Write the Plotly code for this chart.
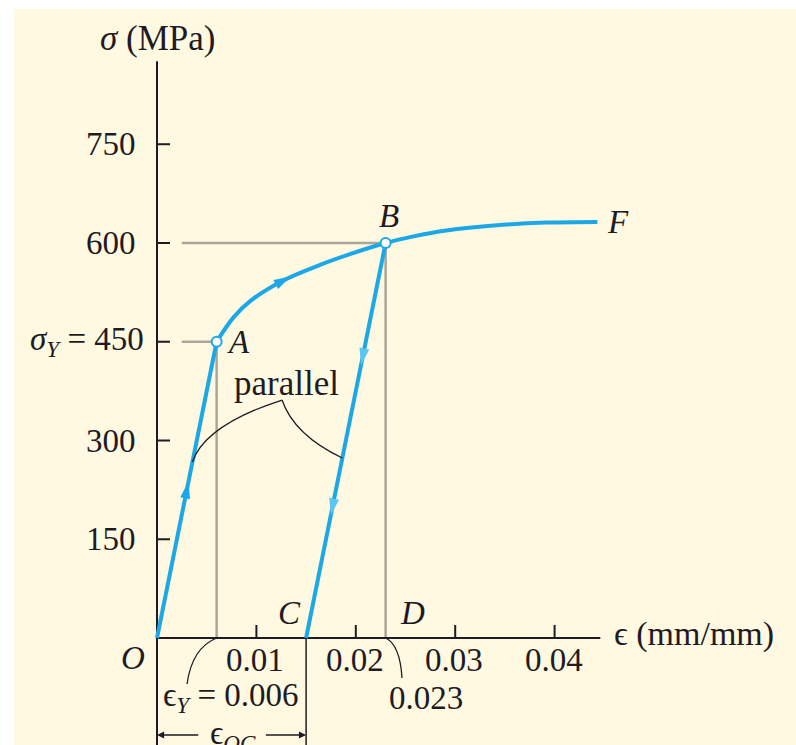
import math
import plotly.graph_objects as go

# ---- data -------------------------------------------------------------
# elastic loading O -> A, strain hardening A -> B -> F, unloading B -> C
strain_OA = [0.0, 0.006]
stress_OA = [0.0, 450.0]

strain_ABF = [0.006, 0.0077, 0.0094, 0.0127, 0.0161, 0.0194, 0.023,
              0.0258, 0.0291, 0.0342, 0.0392, 0.0443]
stress_ABF = [450, 487, 512, 543, 565, 583, 600, 610, 619, 627, 631, 632]

strain_BC = [0.023, 0.015]
stress_BC = [600.0, 0.0]

point_strain = [0.006, 0.023]
point_stress = [450.0, 600.0]

x_ticks = [0.01, 0.02, 0.03, 0.04]
x_tick_text = ["0.01", "0.02", "0.03", "0.04"]
y_ticks = [150, 300, 450, 600, 750]
y_tick_text = ["150", "300", "<i>σ</i><sub><i>Y</i></sub> = 450", "600", "750"]

# ---- styling ----------------------------------------------------------
W, H = 796, 745
ML, MT = 14, 9
X_RANGE = [-0.014386, 0.064286]
Y_RANGE = [-162.5, 955.4]
BG = "#FEF9E0"
BLUE = "#1CA8E6"
BLUE_LIGHT = "#5CC6F2"
GRAY = "#A9A79A"
INK = "#1F1B24"
FONT = "Liberation Serif, Times New Roman, DejaVu Serif, serif"
FS = 33

# pixels per data unit, used for tick lengths and arrowheads
KX = (W - ML) / (X_RANGE[1] - X_RANGE[0])
KY = (H - MT) / (Y_RANGE[1] - Y_RANGE[0])

fig = go.Figure()


def add_line(xs, ys, color=BLUE, width=4, shape="linear"):
    fig.add_trace(go.Scatter(x=xs, y=ys, mode="lines",
                             line=dict(color=color, width=width, shape=shape,
                                       smoothing=1.0),
                             hoverinfo="skip", showlegend=False))


def add_arrowhead(x, y, dx, dy, color=BLUE, length=17, half_w=5):
    """Filled arrowhead centred on (x, y) pointing along (dx, dy)."""
    u, v = dx * KX, dy * KY
    n = math.hypot(u, v)
    u, v = u / n, v / n
    px, py = x * KX, y * KY
    tip = (px + u * length / 2, py + v * length / 2)
    base = (px - u * length / 2, py - v * length / 2)
    c1 = (base[0] - v * half_w, base[1] + u * half_w)
    c2 = (base[0] + v * half_w, base[1] - u * half_w)
    pts = [tip, c1, c2, tip]
    fig.add_trace(go.Scatter(x=[p[0] / KX for p in pts], y=[p[1] / KY for p in pts],
                             mode="lines", fill="toself", fillcolor=color,
                             line=dict(width=0, color=color),
                             hoverinfo="skip", showlegend=False))


shapes = []


def seg(x0, y0, x1, y1, color=INK, width=2):
    shapes.append(dict(type="line", xref="x", yref="y", x0=x0, y0=y0, x1=x1, y1=y1,
                       line=dict(color=color, width=width), layer="below"))


# guide lines to A and B
x_guide_start = 0.0025
seg(x_guide_start, 600, strain_ABF[6], 600, GRAY, 2.5)
seg(x_guide_start, 450, strain_OA[1], 450, GRAY, 2.5)
seg(strain_OA[1], 0, strain_OA[1], 450, GRAY, 2.5)
seg(strain_BC[0], 0, strain_BC[0], 600, GRAY, 2.5)

# axes
x_axis_end = 0.0446
y_axis_end = 876
seg(0, 0, x_axis_end, 0, INK, 2)
seg(0, Y_RANGE[0], 0, y_axis_end, INK, 2)
seg(strain_BC[1], 0, strain_BC[1], Y_RANGE[0], INK, 1.5)
tick_px = 13
for t in x_ticks:
    seg(t, 0, t, tick_px / KY, INK, 2)
for t in y_ticks:
    seg(0, t, tick_px / KX, t, INK, 2)

# curved leader lines
leaders = [
    ((0.006, 0), (0.00352, -15.2), (0.00302, -69.9)),
    ((0.023, 0), (0.02445, -10.6), (0.02465, -60.8)),
    ((0.01258, 361.5), (0.00483, 323.5), (0.003564, 267.3)),
    ((0.01258, 361.5), (0.01378, 308.4), (0.018645, 273.4)),
]
for p0, c, p1 in leaders:
    shapes.append(dict(type="path", xref="x", yref="y",
                       path=f"M{p0[0]},{p0[1]} Q{c[0]},{c[1]} {p1[0]},{p1[1]}",
                       line=dict(color=INK, width=1.3)))

# stress-strain curve
add_line(strain_OA, stress_OA)
add_line(strain_ABF, stress_ABF, shape="spline")
add_line(strain_BC, stress_BC)

# direction arrows
add_arrowhead(0.003, 225, strain_OA[1] - strain_OA[0], stress_OA[1] - stress_OA[0])
add_arrowhead(strain_ABF[3], stress_ABF[3],
              strain_ABF[4] - strain_ABF[2], stress_ABF[4] - stress_ABF[2])
slope_BC = (stress_BC[0] - stress_BC[1]) / (strain_BC[0] - strain_BC[1])
for s in (427, 199):
    add_arrowhead(strain_BC[1] + s / slope_BC, s,
                  strain_BC[1] - strain_BC[0], stress_BC[1] - stress_BC[0],
                  color=BLUE_LIGHT)

# points A and B
fig.add_trace(go.Scatter(x=point_strain, y=point_stress, mode="markers",
                         marker=dict(size=10, color="white",
                                     line=dict(color=BLUE, width=2)),
                         hoverinfo="skip", showlegend=False))

# ---- text -------------------------------------------------------------
ann = []


def text(x, y, s, xanchor="center", size=FS):
    ann.append(dict(x=x, y=y, xref="x", yref="y", text=s, showarrow=False,
                    xanchor=xanchor, yanchor="middle",
                    font=dict(family=FONT, size=size, color=INK)))


for t, lab in zip(y_ticks, y_tick_text):
    text(-0.0011 if t == 450 else -0.0019, t, lab, xanchor="right")
for t, lab in zip(x_ticks, x_tick_text):
    text(t - 0.0001, -33.4, lab)

text(0, 911, "<i>σ</i> (MPa)", size=35)
text(0.04577, 6, "ϵ (mm/mm)", xanchor="left", size=34)
text(-0.00241, -30.4, "<i>O</i>")
text(0.00815, 449.6, "<i>A</i>")
text(0.02334, 641, "<i>B</i>")
text(0.04638, 632, "<i>F</i>")
text(0.01338, 38, "<i>C</i>")
text(0.02575, 38, "<i>D</i>")
text(0.01298, 387, "parallel", size=35)
text(0.00744, -91, "ϵ<sub><i>Y</i></sub> = 0.006")
text(0.02706, -91, "0.023")
text(0.00765, -148, "ϵ<sub><i>OC</i></sub>")

# dimension arrows for eps_OC
for head, tail in ((0.0, 0.0043), (strain_BC[1], 0.0108)):
    ann.append(dict(x=head, y=-147.3, ax=tail, ay=-147.3, xref="x", yref="y",
                    axref="x", ayref="y", text="", showarrow=True,
                    arrowhead=2, arrowsize=1.1, arrowwidth=1.3, arrowcolor=INK))

fig.update_layout(
    width=W, height=H,
    margin=dict(l=ML, t=MT, r=0, b=0, pad=0),
    paper_bgcolor="white", plot_bgcolor=BG,
    xaxis=dict(range=X_RANGE, visible=False, fixedrange=True),
    yaxis=dict(range=Y_RANGE, visible=False, fixedrange=True),
    shapes=shapes, annotations=ann, showlegend=False,
)

fig.write_html("out.html")
